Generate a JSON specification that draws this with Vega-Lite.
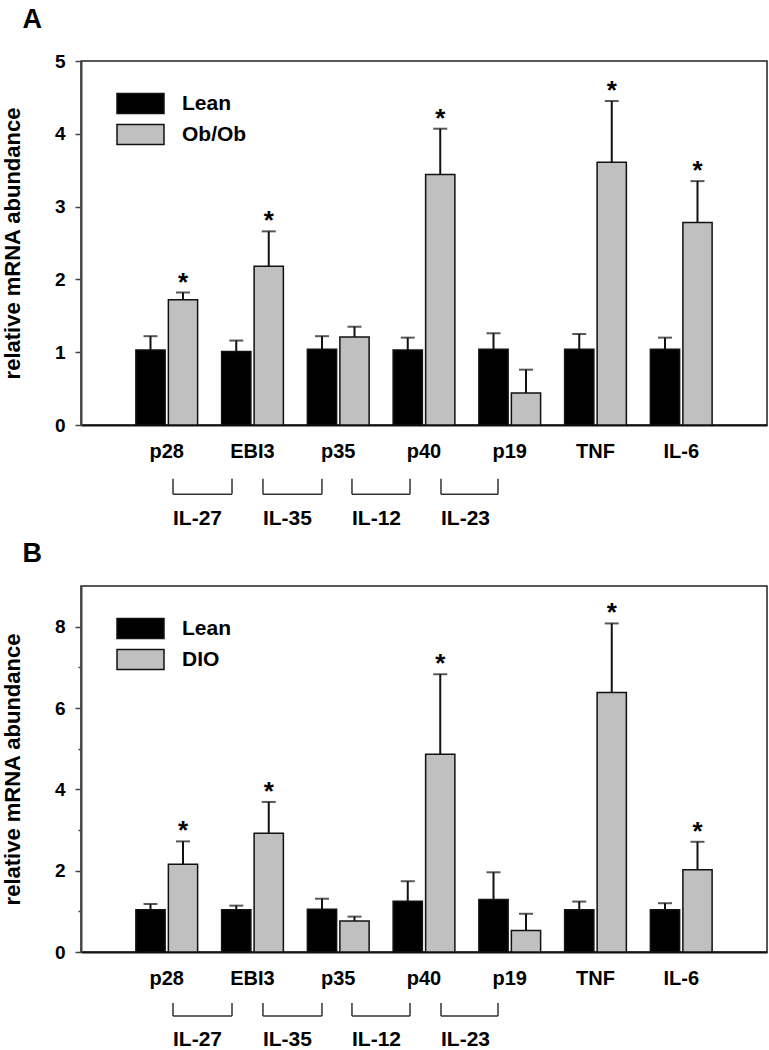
{
  "$schema": "https://vega.github.io/schema/vega-lite/v6.json",
  "padding": {"left": 0, "top": 5, "right": 0, "bottom": 0},
  "spacing": 9,
  "resolve": {"scale": {"fill": "independent", "xOffset": "independent"}, "legend": {"fill": "independent"}},
  "datasets": {
    "a": [
      {"gene": "p28", "group": "Lean", "value": 1.03, "upper": 1.22, "sig": false},
      {"gene": "p28", "group": "Ob/Ob", "value": 1.72, "upper": 1.82, "sig": true},
      {"gene": "EBI3", "group": "Lean", "value": 1.01, "upper": 1.16, "sig": false},
      {"gene": "EBI3", "group": "Ob/Ob", "value": 2.18, "upper": 2.66, "sig": true},
      {"gene": "p35", "group": "Lean", "value": 1.04, "upper": 1.22, "sig": false},
      {"gene": "p35", "group": "Ob/Ob", "value": 1.21, "upper": 1.35, "sig": false},
      {"gene": "p40", "group": "Lean", "value": 1.03, "upper": 1.2, "sig": false},
      {"gene": "p40", "group": "Ob/Ob", "value": 3.44, "upper": 4.07, "sig": true},
      {"gene": "p19", "group": "Lean", "value": 1.04, "upper": 1.26, "sig": false},
      {"gene": "p19", "group": "Ob/Ob", "value": 0.44, "upper": 0.76, "sig": false},
      {"gene": "TNF", "group": "Lean", "value": 1.04, "upper": 1.25, "sig": false},
      {"gene": "TNF", "group": "Ob/Ob", "value": 3.61, "upper": 4.45, "sig": true},
      {"gene": "IL-6", "group": "Lean", "value": 1.04, "upper": 1.2, "sig": false},
      {"gene": "IL-6", "group": "Ob/Ob", "value": 2.78, "upper": 3.35, "sig": true}
    ],
    "b": [
      {"gene": "p28", "group": "Lean", "value": 1.04, "upper": 1.18, "sig": false},
      {"gene": "p28", "group": "DIO", "value": 2.16, "upper": 2.72, "sig": true},
      {"gene": "EBI3", "group": "Lean", "value": 1.04, "upper": 1.14, "sig": false},
      {"gene": "EBI3", "group": "DIO", "value": 2.92, "upper": 3.69, "sig": true},
      {"gene": "p35", "group": "Lean", "value": 1.05, "upper": 1.31, "sig": false},
      {"gene": "p35", "group": "DIO", "value": 0.76, "upper": 0.87, "sig": false},
      {"gene": "p40", "group": "Lean", "value": 1.25, "upper": 1.74, "sig": false},
      {"gene": "p40", "group": "DIO", "value": 4.86, "upper": 6.83, "sig": true},
      {"gene": "p19", "group": "Lean", "value": 1.29, "upper": 1.96, "sig": false},
      {"gene": "p19", "group": "DIO", "value": 0.53, "upper": 0.94, "sig": false},
      {"gene": "TNF", "group": "Lean", "value": 1.04, "upper": 1.24, "sig": false},
      {"gene": "TNF", "group": "DIO", "value": 6.38, "upper": 8.08, "sig": true},
      {"gene": "IL-6", "group": "Lean", "value": 1.04, "upper": 1.2, "sig": false},
      {"gene": "IL-6", "group": "DIO", "value": 2.02, "upper": 2.71, "sig": true}
    ],
    "br": [
      {"name": "IL-27", "start": 1.073, "end": 1.761},
      {"name": "IL-35", "start": 2.122, "end": 2.81},
      {"name": "IL-12", "start": 3.16, "end": 3.837},
      {"name": "IL-23", "start": 4.198, "end": 4.863}
    ]
  },
  "vconcat": [
    {
      "title": {"text": "A", "anchor": "start", "frame": "bounds", "dx": 21, "offset": 18},
      "width": 686,
      "height": 364,
      "resolve": {"scale": {"x": "independent"}},
      "layer": [
        {
          "data": {"name": "a"},
          "encoding": {
            "x": {"field": "gene", "type": "nominal", "title": null,
                  "scale": {"domain": ["p28", "EBI3", "p35", "p40", "p19", "TNF", "IL-6"], "paddingInner": 0.28, "paddingOuter": 0.64},
                  "axis": {"ticks": false, "labelAngle": 0, "labelPadding": 16, "domainColor": "#111", "domainWidth": 2}},
            "xOffset": {"field": "group", "type": "nominal", "scale": {"domain": ["Lean", "Ob/Ob"], "paddingInner": 0.1, "paddingOuter": 0}}
          },
          "layer": [
            {"mark": {"type": "rule", "color": "#111", "strokeWidth": 2},
             "encoding": {"y": {"field": "value", "type": "quantitative"}, "y2": {"field": "upper"}}},
            {"mark": {"type": "tick", "color": "#111", "size": 14, "thickness": 2, "orient": "horizontal"},
             "encoding": {"y": {"field": "upper", "type": "quantitative"}}},
            {"mark": {"type": "bar", "stroke": "#111", "strokeWidth": 1.5},
             "encoding": {
               "y": {"field": "value", "type": "quantitative", "title": "relative mRNA abundance",
                     "scale": {"domain": [0, 5], "nice": false},
                     "axis": {"values": [0, 0.5, 1, 1.5, 2, 2.5, 3, 3.5, 4, 4.5, 5], "format": "d",
                              "labelExpr": "datum.value % 1 ? '' : datum.label",
                              "tickSize": {"condition": {"test": "datum.value % 1", "value": 3}, "value": 6}}},
               "fill": {"field": "group", "type": "nominal", "title": null,
                        "scale": {"domain": ["Lean", "Ob/Ob"], "range": ["#000000", "#c0c0c0"]},
                        "legend": {"orient": "none", "legendX": 47, "legendY": 30}}
             }},
            {"transform": [{"filter": "datum.sig"}],
             "mark": {"type": "text", "text": "*", "fontSize": 26, "fontWeight": "bold", "baseline": "alphabetic", "dy": -2, "color": "#000"},
             "encoding": {"y": {"field": "upper", "type": "quantitative"}}}
          ]
        },
        {
          "data": {"name": "br"},
          "encoding": {
            "x": {"field": "start", "type": "quantitative", "scale": {"domain": [0, 8], "nice": false, "zero": false}, "axis": null}
          },
          "layer": [
            {"mark": {"type": "rule", "color": "#333", "strokeWidth": 1.5},
             "encoding": {"x2": {"field": "end"}, "y": {"datum": -0.95}}},
            {"mark": {"type": "rule", "color": "#333", "strokeWidth": 1.5},
             "encoding": {"y": {"datum": -0.74}, "y2": {"datum": -0.95}}},
            {"mark": {"type": "rule", "color": "#333", "strokeWidth": 1.5},
             "encoding": {"x": {"field": "end", "type": "quantitative", "axis": null}, "y": {"datum": -0.74}, "y2": {"datum": -0.95}}},
            {"mark": {"type": "text", "fontSize": 21, "fontWeight": "bold", "align": "left", "baseline": "middle", "color": "#000"},
             "encoding": {"text": {"field": "name"}, "y": {"datum": -1.29}}}
          ]
        }
      ]
    },
    {
      "title": {"text": "B", "anchor": "start", "frame": "bounds", "dx": 21, "offset": 18},
      "width": 686,
      "height": 366,
      "resolve": {"scale": {"x": "independent"}},
      "layer": [
        {
          "data": {"name": "b"},
          "encoding": {
            "x": {"field": "gene", "type": "nominal", "title": null,
                  "scale": {"domain": ["p28", "EBI3", "p35", "p40", "p19", "TNF", "IL-6"], "paddingInner": 0.28, "paddingOuter": 0.64},
                  "axis": {"ticks": false, "labelAngle": 0, "labelPadding": 16, "domainColor": "#111", "domainWidth": 2}},
            "xOffset": {"field": "group", "type": "nominal", "scale": {"domain": ["Lean", "DIO"], "paddingInner": 0.1, "paddingOuter": 0}}
          },
          "layer": [
            {"mark": {"type": "rule", "color": "#111", "strokeWidth": 2},
             "encoding": {"y": {"field": "value", "type": "quantitative"}, "y2": {"field": "upper"}}},
            {"mark": {"type": "tick", "color": "#111", "size": 14, "thickness": 2, "orient": "horizontal"},
             "encoding": {"y": {"field": "upper", "type": "quantitative"}}},
            {"mark": {"type": "bar", "stroke": "#111", "strokeWidth": 1.5},
             "encoding": {
               "y": {"field": "value", "type": "quantitative", "title": "relative mRNA abundance",
                     "scale": {"domain": [0, 9], "nice": false},
                     "axis": {"values": [0, 1, 2, 3, 4, 5, 6, 7, 8], "format": "d",
                              "labelExpr": "datum.value % 2 ? '' : datum.label",
                              "tickSize": {"condition": {"test": "datum.value % 2", "value": 3}, "value": 6}}},
               "fill": {"field": "group", "type": "nominal", "title": null,
                        "scale": {"domain": ["Lean", "DIO"], "range": ["#000000", "#c0c0c0"]},
                        "legend": {"orient": "none", "legendX": 47, "legendY": 30}}
             }},
            {"transform": [{"filter": "datum.sig"}],
             "mark": {"type": "text", "text": "*", "fontSize": 26, "fontWeight": "bold", "baseline": "alphabetic", "dy": -2, "color": "#000"},
             "encoding": {"y": {"field": "upper", "type": "quantitative"}}}
          ]
        },
        {
          "data": {"name": "br"},
          "encoding": {
            "x": {"field": "start", "type": "quantitative", "scale": {"domain": [0, 8], "nice": false, "zero": false}, "axis": null}
          },
          "layer": [
            {"mark": {"type": "rule", "color": "#333", "strokeWidth": 1.5},
             "encoding": {"x2": {"field": "end"}, "y": {"datum": -1.574}}},
            {"mark": {"type": "rule", "color": "#333", "strokeWidth": 1.5},
             "encoding": {"y": {"datum": -1.256}, "y2": {"datum": -1.574}}},
            {"mark": {"type": "rule", "color": "#333", "strokeWidth": 1.5},
             "encoding": {"x": {"field": "end", "type": "quantitative", "axis": null}, "y": {"datum": -1.256}, "y2": {"datum": -1.574}}},
            {"mark": {"type": "text", "fontSize": 21, "fontWeight": "bold", "align": "left", "baseline": "middle", "color": "#000"},
             "encoding": {"text": {"field": "name"}, "y": {"datum": -2.16}}}
          ]
        }
      ]
    }
  ],
  "config": {
    "font": "Liberation Sans",
    "view": {"stroke": "#222", "strokeWidth": 1.5},
    "title": {"fontSize": 27, "fontWeight": "bold", "color": "#000", "font": "Liberation Sans"},
    "axis": {"grid": false, "labelFontSize": 20, "labelFontWeight": "bold", "labelColor": "#000",
             "titleFontSize": 22, "titleFontWeight": "bold", "titleColor": "#000",
             "domainColor": "#444", "domainWidth": 2, "tickColor": "#444", "tickWidth": 1.5},
    "axisY": {"labelPadding": 10, "titlePadding": 30, "labelFontSize": 19},
    "legend": {"labelFontSize": 21, "labelFontWeight": "bold", "labelColor": "#000", "labelOffset": 29,
               "symbolType": "M-2,-0.85H2V0.85H-2Z", "symbolSize": 552, "symbolStrokeColor": "#111",
               "symbolStrokeWidth": 1.5, "symbolOpacity": 1, "rowPadding": 4, "padding": 0}
  }
}
